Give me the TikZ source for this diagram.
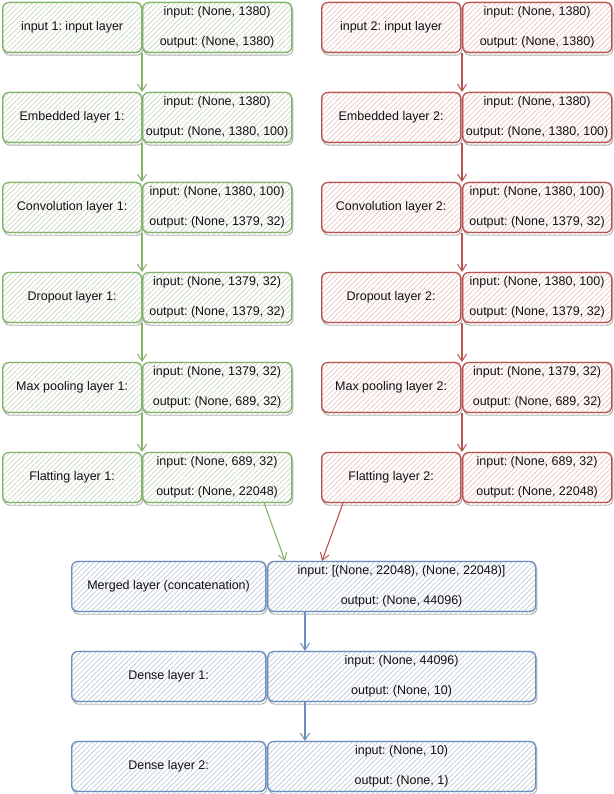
\documentclass[tikz,border=0pt]{standalone}
\usepackage{fontspec}
\setmainfont{Liberation Sans}
\frenchspacing
\usetikzlibrary{arrows.meta,patterns.meta}

\definecolor{gline}{HTML}{82B366}
\definecolor{ghatch}{HTML}{C6D4C0}
\definecolor{rline}{HTML}{B85450}
\definecolor{rhatch}{HTML}{EBC0BE}
\definecolor{bline}{HTML}{6C8EBF}
\definecolor{bhatch}{HTML}{BCC6D6}
\definecolor{txt}{HTML}{111111}
\definecolor{shade}{HTML}{B0B0B0}

\tikzset{
  layer/.style={
    rounded corners=6pt, inner sep=0pt, minimum height=50pt, anchor=north west,
    text=txt, align=center, font=\fontsize{12.5}{30}\selectfont,
    % shadow: outline plus hatching, shifted down and right
    preaction={draw=shade, line width=0.9pt,
      pattern={Lines[angle=45,distance=3.6pt,line width=0.5pt]}, pattern color=shade!70,
      transform canvas={shift={(1.2pt,-2.6pt)}}},
    preaction={fill=white},
    preaction={pattern={Lines[angle=45,distance=3.6pt,line width=0.6pt]}, pattern color=#1hatch},
    draw=#1line, line width=1.2pt,
    % second pen stroke for the sketched look
    postaction={draw=#1line, line width=0.7pt, opacity=0.55,
      transform canvas={shift={(0.7pt,0.6pt)}}}
  },
  narrowL/.style={layer=#1, minimum width=139pt},
  narrowR/.style={layer=#1, minimum width=149pt},
  wideL/.style={layer=#1, minimum width=194pt},
  wideR/.style={layer=#1, minimum width=268pt},
  flow/.style={draw=#1line, line width=1.1pt,
    -{Straight Barb[length=7pt,width=9pt,line width=1pt]}},
}

\begin{document}
\begin{tikzpicture}[x=1pt,y=-1pt]
\useasboundingbox (0,0) rectangle (613,794);

% green branch
\node[narrowL=g] (g1l) at (2,2)   {input 1: input layer};
\node[narrowR=g] (g1r) at (142,2) {input: (None, 1380)\\output: (None, 1380)};
\node[narrowL=g] (g2l) at (2,92)   {Embedded layer 1:};
\node[narrowR=g] (g2r) at (142,92) {input: (None, 1380)\\output: (None, 1380, 100)};
\node[narrowL=g] (g3l) at (2,182)   {Convolution layer 1:};
\node[narrowR=g] (g3r) at (142,182) {input: (None, 1380, 100)\\output: (None, 1379, 32)};
\node[narrowL=g] (g4l) at (2,272)   {Dropout layer 1:};
\node[narrowR=g] (g4r) at (142,272) {input: (None, 1379, 32)\\output: (None, 1379, 32)};
\node[narrowL=g] (g5l) at (2,362)   {Max pooling layer 1:};
\node[narrowR=g] (g5r) at (142,362) {input: (None, 1379, 32)\\output: (None, 689, 32)};
\node[narrowL=g] (g6l) at (2,452)   {Flatting layer 1:};
\node[narrowR=g] (g6r) at (142,452) {input: (None, 689, 32)\\output: (None, 22048)};

% red branch
\node[narrowL=r] (r1l) at (321,2)   {input 2: input layer};
\node[narrowR=r] (r1r) at (462,2)   {input: (None, 1380)\\output: (None, 1380)};
\node[narrowL=r] (r2l) at (321,92)  {Embedded layer 2:};
\node[narrowR=r] (r2r) at (462,92)  {input: (None, 1380)\\output: (None, 1380, 100)};
\node[narrowL=r] (r3l) at (321,182) {Convolution layer 2:};
\node[narrowR=r] (r3r) at (462,182) {input: (None, 1380, 100)\\output: (None, 1379, 32)};
\node[narrowL=r] (r4l) at (321,272) {Dropout layer 2:};
\node[narrowR=r] (r4r) at (462,272) {input: (None, 1380, 100)\\output: (None, 1379, 32)};
\node[narrowL=r] (r5l) at (321,362) {Max pooling layer 2:};
\node[narrowR=r] (r5r) at (462,362) {input: (None, 1379, 32)\\output: (None, 689, 32)};
\node[narrowL=r] (r6l) at (321,452) {Flatting layer 2:};
\node[narrowR=r] (r6r) at (462,452) {input: (None, 689, 32)\\output: (None, 22048)};

% merged and dense layers
\node[wideL=b] (ml) at (71,561)  {Merged layer (concatenation)};
\node[wideR=b] (mr) at (267,561) {input: [(None, 22048), (None, 22048)]\\output: (None, 44096)};
\node[wideL=b] (d1l) at (71,651)  {Dense layer 1:};
\node[wideR=b] (d1r) at (267,651) {input: (None, 44096)\\output: (None, 10)};
\node[wideL=b] (d2l) at (71,741)  {Dense layer 2:};
\node[wideR=b] (d2r) at (267,741) {input: (None, 10)\\output: (None, 1)};

% connectors
\foreach \a/\b in {1/2,2/3,3/4,4/5,5/6}{
  \draw[flow=g] (g\a r.south west) -- (g\b r.north west);
  \draw[flow=r] (r\a r.south west) -- (r\b r.north west);
}
\draw[flow=g] ([xshift=-28pt]g6r.south east) -- ([xshift=18pt]mr.north west);
\draw[flow=r] ([xshift=22pt]r6l.south west) -- ([xshift=55pt]mr.north west);
\draw[flow=b] ([xshift=38pt]mr.south west) -- ([xshift=38pt]d1r.north west);
\draw[flow=b] ([xshift=38pt]d1r.south west) -- ([xshift=38pt]d2r.north west);
\end{tikzpicture}
\end{document}
